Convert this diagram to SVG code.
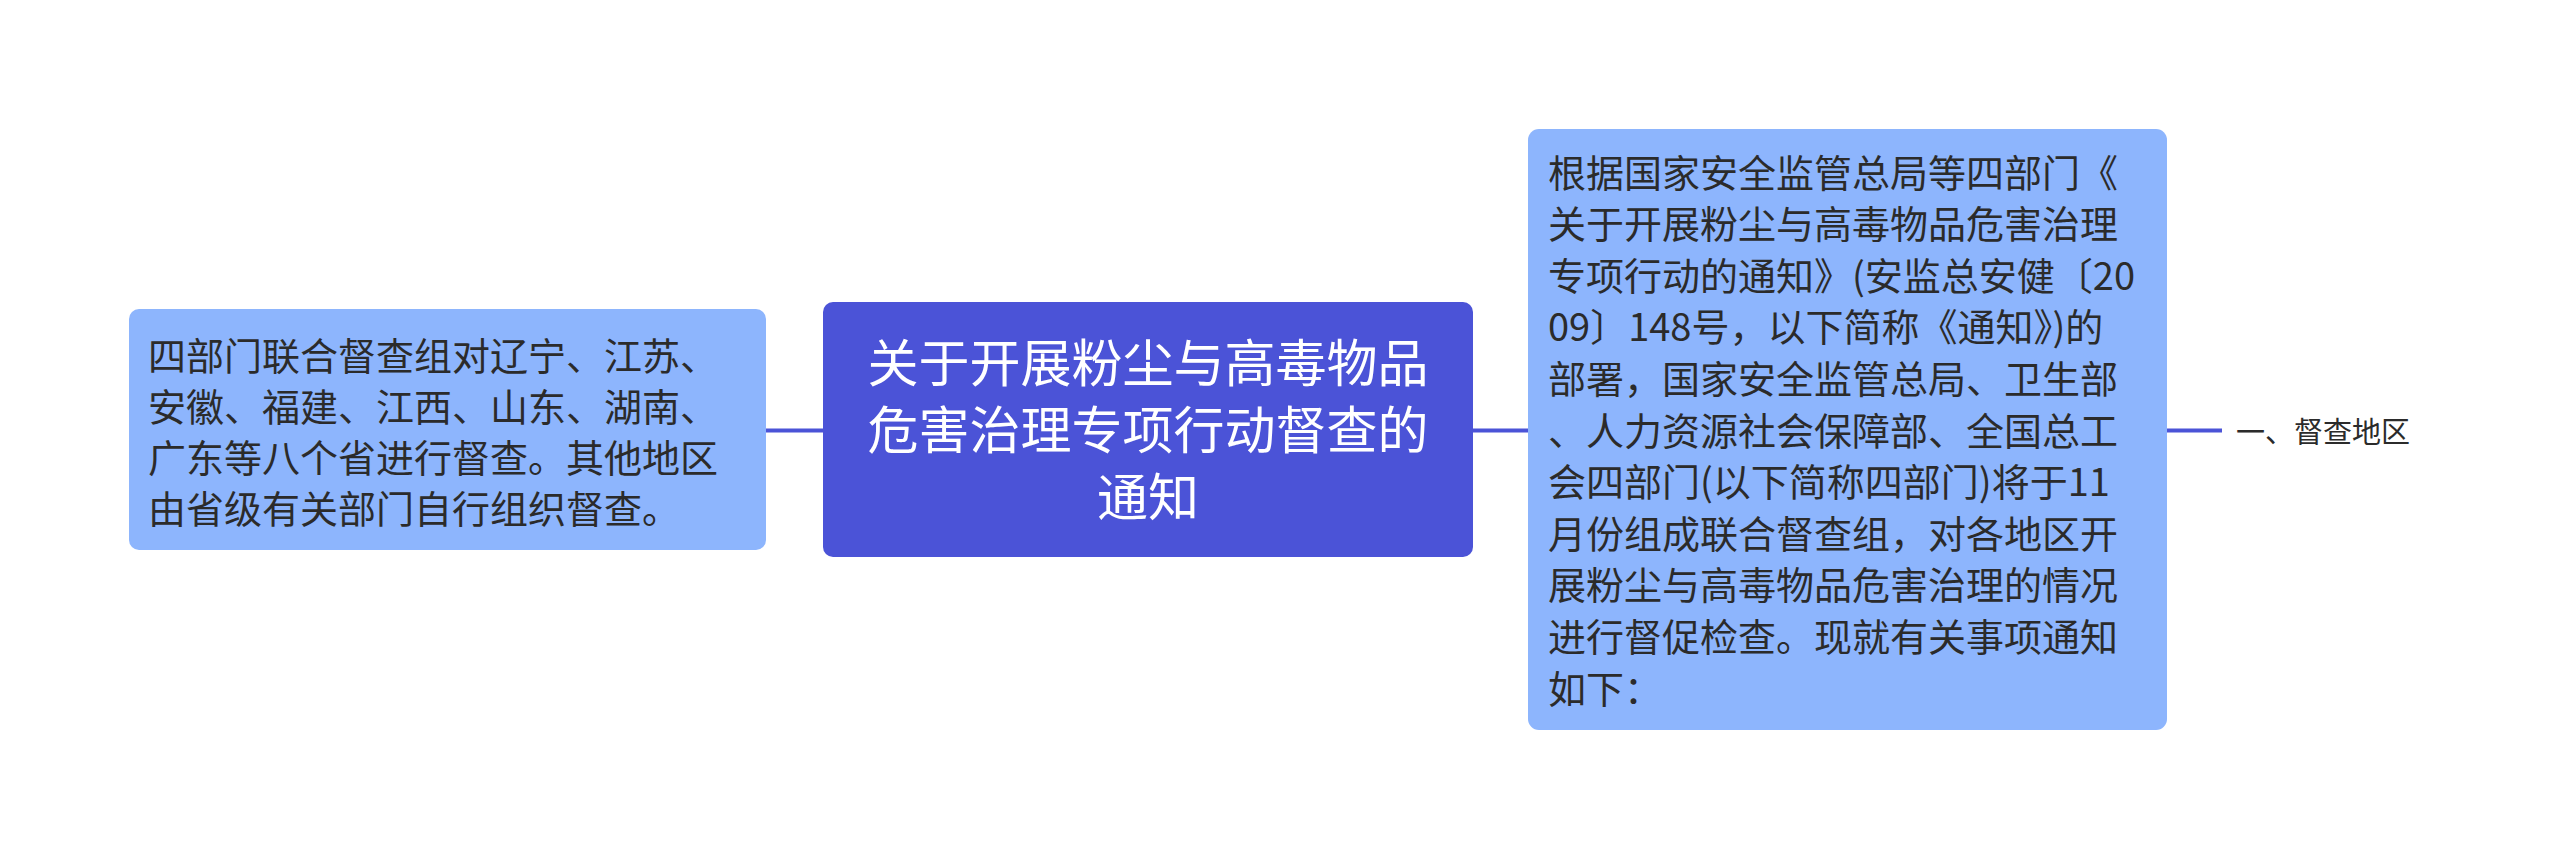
<svg xmlns="http://www.w3.org/2000/svg" width="2560" height="861" viewBox="0 0 2560 861">
<style>
.t{font-family:"Noto Sans CJK SC","Noto Sans",sans-serif;}
.main{fill:#4B53D7;}
.sub{fill:#8DB5FD;}
.mt{fill:#ffffff;font-size:51px;}
.st{fill:#2b2b2b;font-size:38px;}
.lt{fill:#2b2b2b;font-size:29px;}
.c{stroke:#4B53D7;stroke-width:4;fill:none;}
</style>
<rect width="2560" height="861" fill="#ffffff"/>
<g id="connectors">
<line class="c" x1="766" y1="430.5" x2="823" y2="430.5"/>
<line class="c" x1="1473" y1="430.5" x2="1528" y2="430.5"/>
<line class="c" x1="2167" y1="430.5" x2="2222" y2="430.5"/>
</g>
<g id="node-center">
<rect class="main" x="823" y="302" width="650" height="255" rx="10"/>
<text class="t mt" text-anchor="middle" x="1148" y="382"><tspan x="1148">关于开展粉尘与高毒物品</tspan><tspan x="1148" dy="67">危害治理专项行动督查的</tspan><tspan x="1148" dy="67">通知</tspan></text>
</g>
<g id="node-left">
<rect class="sub" x="129" y="309" width="637" height="241" rx="10"/>
<text class="t st" x="148" y="369.5"><tspan x="148">四部门联合督查组对辽宁、江苏、</tspan><tspan x="148" dy="51">安徽、福建、江西、山东、湖南、</tspan><tspan x="148" dy="51">广东等八个省进行督查。其他地区</tspan><tspan x="148" dy="51">由省级有关部门自行组织督查。</tspan></text>
</g>
<g id="node-right">
<rect class="sub" x="1528" y="129" width="639" height="601" rx="11"/>
<text class="t st" x="1548" y="186.5"><tspan x="1548">根据国家安全监管总局等四部门《</tspan><tspan x="1548" dy="51.6">关于开展粉尘与高毒物品危害治理</tspan><tspan x="1548" dy="51.6">专项行动的通知》(安监总安健〔20</tspan><tspan x="1548" dy="51.6">09〕148号，以下简称《通知》)的</tspan><tspan x="1548" dy="51.6">部署，国家安全监管总局、卫生部</tspan><tspan x="1548" dy="51.6">、人力资源社会保障部、全国总工</tspan><tspan x="1548" dy="51.6">会四部门(以下简称四部门)将于11</tspan><tspan x="1548" dy="51.6">月份组成联合督查组，对各地区开</tspan><tspan x="1548" dy="51.6">展粉尘与高毒物品危害治理的情况</tspan><tspan x="1548" dy="51.6">进行督促检查。现就有关事项通知</tspan><tspan x="1548" dy="51.6">如下：</tspan></text>
</g>
<g id="node-label">
<text class="t lt" x="2236" y="443">一、督查地区</text>
</g>
</svg>
